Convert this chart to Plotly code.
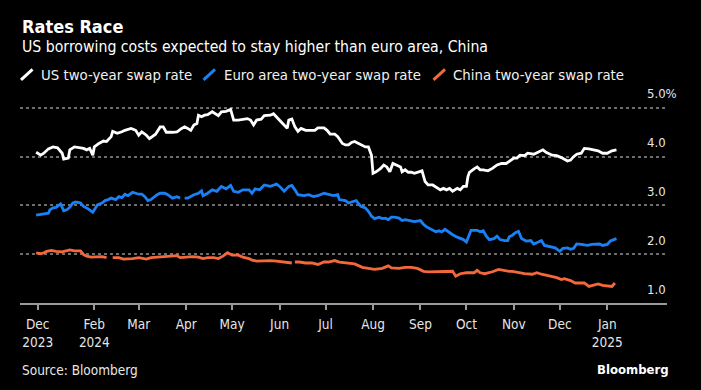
import plotly.graph_objects as go

# ---------------- data ----------------
us_dates = ["2023-12-25","2023-12-28","2023-12-30","2024-01-02","2024-01-05","2024-01-08","2024-01-11","2024-01-12","2024-01-15","2024-01-16",
            "2024-01-19","2024-01-23","2024-01-25","2024-01-27","2024-01-29","2024-01-31","2024-02-01","2024-02-04","2024-02-07","2024-02-09",
            "2024-02-12","2024-02-13","2024-02-16","2024-02-19","2024-02-21","2024-02-25","2024-02-28","2024-03-01","2024-03-03","2024-03-06",
            "2024-03-08","2024-03-12","2024-03-15","2024-03-17","2024-03-19","2024-03-23","2024-03-26","2024-03-29","2024-03-31","2024-04-02",
            "2024-04-04","2024-04-06","2024-04-08","2024-04-09","2024-04-11","2024-04-13","2024-04-15","2024-04-18","2024-04-20","2024-04-22",
            "2024-04-24","2024-04-27","2024-04-30","2024-05-02","2024-05-05","2024-05-08","2024-05-11","2024-05-13","2024-05-15","2024-05-17",
            "2024-05-20","2024-05-22","2024-05-26","2024-05-28","2024-05-30","2024-06-01","2024-06-03","2024-06-06","2024-06-07","2024-06-09",
            "2024-06-11","2024-06-13","2024-06-15","2024-06-18","2024-06-21","2024-06-24","2024-06-26","2024-06-30","2024-07-02","2024-07-04",
            "2024-07-07","2024-07-09","2024-07-12","2024-07-14","2024-07-16",
            "2024-07-18","2024-07-20","2024-07-24","2024-07-27","2024-07-29","2024-07-31","2024-08-01","2024-08-03","2024-08-06","2024-08-08",
            "2024-08-10","2024-08-12","2024-08-14","2024-08-16","2024-08-19","2024-08-20","2024-08-22","2024-08-24","2024-08-26","2024-08-28",
            "2024-08-31","2024-09-02","2024-09-04","2024-09-06","2024-09-09","2024-09-12","2024-09-14","2024-09-16","2024-09-18","2024-09-20",
            "2024-09-22","2024-09-25","2024-09-27","2024-09-29","2024-10-01","2024-10-02","2024-10-03","2024-10-06","2024-10-08","2024-10-10",
            "2024-10-12","2024-10-15","2024-10-18","2024-10-21","2024-10-24","2024-10-27","2024-10-29",
            "2024-11-01","2024-11-03","2024-11-05","2024-11-08","2024-11-10","2024-11-14","2024-11-17","2024-11-20","2024-11-22","2024-11-26",
            "2024-11-29","2024-12-02","2024-12-06","2024-12-08","2024-12-10","2024-12-12","2024-12-15","2024-12-17","2024-12-20","2024-12-23",
            "2024-12-26","2024-12-29","2025-01-01","2025-01-04","2025-01-07"]
us_rates = [4.09,4.03,4.07,4.16,4.20,4.18,4.07,3.95,3.97,4.14,
            4.20,4.18,4.17,4.14,4.17,4.03,4.20,4.27,4.32,4.31,
            4.41,4.52,4.48,4.51,4.54,4.58,4.54,4.44,4.51,4.44,
            4.37,4.46,4.61,4.61,4.50,4.50,4.51,4.58,4.61,4.58,
            4.54,4.65,4.68,4.85,4.82,4.85,4.86,4.92,4.88,4.84,
            4.92,4.93,4.97,4.75,4.75,4.77,4.78,4.75,4.65,4.75,
            4.77,4.84,4.85,4.88,4.82,4.75,4.68,4.58,4.75,4.77,
            4.61,4.52,4.58,4.54,4.54,4.54,4.59,4.59,4.54,4.46,
            4.46,4.41,4.27,4.24,4.24,
            4.29,4.31,4.24,4.20,4.20,4.03,3.66,3.69,3.76,3.83,
            3.79,3.69,3.86,3.83,3.79,3.69,3.73,3.68,3.68,3.66,
            3.69,3.71,3.49,3.42,3.42,3.37,3.32,3.35,3.32,3.35,
            3.29,3.35,3.32,3.39,3.39,3.59,3.68,3.75,3.79,3.73,
            3.73,3.71,3.76,3.83,3.86,3.86,3.90,
            3.97,3.97,4.03,4.02,4.07,4.05,4.09,4.14,4.09,4.03,
            4.02,3.98,3.91,3.93,4.00,4.05,4.07,4.17,4.16,4.14,
            4.12,4.07,4.07,4.12,4.14]

eu_dates = ["2023-12-25","2023-12-30","2024-01-02","2024-01-03","2024-01-05","2024-01-07","2024-01-10","2024-01-12","2024-01-14","2024-01-16",
            "2024-01-18","2024-01-20","2024-01-23","2024-01-25","2024-01-28","2024-01-31","2024-02-03","2024-02-06","2024-02-08","2024-02-10",
            "2024-02-12","2024-02-15","2024-02-17","2024-02-19","2024-02-21","2024-02-23","2024-02-26","2024-03-01","2024-03-03","2024-03-05",
            "2024-03-07","2024-03-09","2024-03-13","2024-03-15","2024-03-18","2024-03-20","2024-03-23","2024-03-26","2024-03-28","2024-03-29",
            "2024-03-31","2024-04-02",
            "2024-04-06","2024-04-09","2024-04-11","2024-04-12","2024-04-15","2024-04-18","2024-04-21","2024-04-24","2024-04-27","2024-04-30",
            "2024-05-02","2024-05-05","2024-05-08","2024-05-12","2024-05-14","2024-05-16","2024-05-19","2024-05-22","2024-05-26","2024-05-28",
            "2024-05-30","2024-06-01","2024-06-04","2024-06-07","2024-06-09","2024-06-11","2024-06-13","2024-06-17","2024-06-20","2024-06-23",
            "2024-06-26","2024-06-30","2024-07-03","2024-07-06","2024-07-09","2024-07-10","2024-07-14","2024-07-16",
            "2024-07-19","2024-07-21","2024-07-24","2024-07-27","2024-07-29","2024-07-31","2024-08-02","2024-08-05","2024-08-07","2024-08-09",
            "2024-08-11","2024-08-13","2024-08-15","2024-08-18","2024-08-20","2024-08-22","2024-08-25","2024-08-28","2024-09-01","2024-09-03",
            "2024-09-05","2024-09-08","2024-09-11","2024-09-13","2024-09-15","2024-09-17","2024-09-20","2024-09-22","2024-09-25","2024-09-27",
            "2024-09-29","2024-10-01","2024-10-03","2024-10-04","2024-10-08","2024-10-10","2024-10-12","2024-10-14","2024-10-16","2024-10-19",
            "2024-10-21","2024-10-23","2024-10-26","2024-10-28","2024-10-29",
            "2024-10-31","2024-11-02","2024-11-04","2024-11-06","2024-11-09","2024-11-12","2024-11-14","2024-11-17","2024-11-19","2024-11-21",
            "2024-11-25","2024-11-28","2024-12-01","2024-12-03","2024-12-06","2024-12-08","2024-12-10","2024-12-12","2024-12-15","2024-12-19",
            "2024-12-22","2024-12-25","2024-12-27","2024-12-29","2025-01-01","2025-01-03","2025-01-05","2025-01-07"]
eu_rates = [2.80,2.82,2.84,2.91,2.95,2.96,3.03,2.89,2.91,2.96,
            3.05,3.07,3.05,2.98,2.93,2.86,3.01,3.05,3.10,3.12,
            3.15,3.12,3.18,3.16,3.23,3.20,3.27,3.23,3.23,3.18,
            3.10,3.12,3.22,3.25,3.25,3.22,3.15,3.18,3.15,None,
            3.15,3.15,
            3.22,3.25,3.30,3.20,3.25,3.32,3.29,3.39,3.34,3.41,
            3.29,3.27,3.32,3.32,3.25,3.34,3.32,3.42,3.39,3.42,
            3.44,3.39,3.29,3.39,3.41,3.32,3.22,3.20,3.22,3.18,
            3.20,3.25,3.23,3.20,3.22,3.12,3.10,3.05,
            3.08,3.10,2.98,2.95,2.88,2.78,2.73,2.76,2.73,2.74,
            2.71,2.76,2.76,2.74,2.69,2.71,2.69,2.67,2.69,2.61,
            2.56,2.51,2.46,2.48,2.46,2.51,2.44,2.40,2.35,2.32,
            2.30,2.25,2.42,2.49,2.49,2.46,2.48,2.37,2.30,2.32,
            2.37,2.30,2.28,2.28,2.36,
            2.39,2.44,2.47,2.32,2.27,2.28,2.21,2.25,2.28,2.18,
            2.16,2.13,2.06,2.12,2.13,2.10,2.12,2.21,2.20,2.18,
            2.20,2.21,2.21,2.18,2.20,2.27,2.30,2.32]

cn_dates = ["2023-12-25","2023-12-28","2023-12-30","2024-01-01","2024-01-04","2024-01-07","2024-01-11","2024-01-14","2024-01-16","2024-01-19",
            "2024-01-23","2024-01-25","2024-01-27","2024-01-30","2024-02-03","2024-02-06","2024-02-09","2024-02-11","2024-02-13","2024-02-17",
            "2024-02-20","2024-02-23","2024-02-26","2024-03-01","2024-03-04","2024-03-06","2024-03-09","2024-03-13","2024-03-16","2024-03-19",
            "2024-03-23","2024-03-26","2024-03-28","2024-03-31","2024-04-02",
            "2024-04-05","2024-04-09","2024-04-12","2024-04-15","2024-04-19","2024-04-22","2024-04-25","2024-04-28","2024-05-01","2024-05-05",
            "2024-05-08","2024-05-12","2024-05-14","2024-05-17","2024-05-21","2024-05-26","2024-05-30","2024-06-05","2024-06-09","2024-06-10",
            "2024-06-11","2024-06-14","2024-06-18","2024-06-22","2024-06-26","2024-06-30","2024-07-03","2024-07-07","2024-07-10","2024-07-14",
            "2024-07-17",
            "2024-07-20","2024-07-25","2024-07-29","2024-08-02","2024-08-07","2024-08-11","2024-08-13","2024-08-18","2024-08-22","2024-08-26",
            "2024-08-30","2024-09-03","2024-09-06","2024-09-11","2024-09-15","2024-09-19","2024-09-22","2024-09-24","2024-09-27","2024-10-01",
            "2024-10-06","2024-10-08","2024-10-10","2024-10-13","2024-10-18","2024-10-22","2024-10-25","2024-10-29",
            "2024-10-31","2024-11-04","2024-11-08","2024-11-13","2024-11-16","2024-11-19","2024-11-22","2024-11-26","2024-11-29","2024-12-02",
            "2024-12-04","2024-12-08","2024-12-11","2024-12-14","2024-12-17","2024-12-20","2024-12-23","2024-12-26","2024-12-29","2025-01-02",
            "2025-01-04","2025-01-06"]
cn_rates = [2.03,2.01,2.03,2.06,2.08,2.06,2.05,2.07,2.09,2.07,
            2.07,1.99,1.96,1.94,1.94,1.95,1.93,None,1.93,1.93,
            1.90,1.90,1.91,1.93,1.91,1.90,1.93,1.94,1.94,1.94,
            1.95,1.97,1.93,1.94,1.95,
            1.95,1.94,1.91,1.93,1.93,1.91,1.96,2.03,1.98,1.98,
            1.94,1.91,1.88,1.86,1.87,1.87,1.86,1.84,1.82,None,
            1.84,1.84,1.82,1.82,1.79,1.84,1.84,1.87,1.84,1.82,
            1.82,
            1.80,1.73,1.71,1.69,1.71,1.76,1.72,1.71,1.73,1.73,
            1.71,1.65,1.64,1.64,1.65,1.65,1.65,1.55,1.60,1.62,
            1.62,1.67,1.62,1.60,1.64,1.69,1.67,1.65,
            1.65,1.62,1.60,1.59,1.62,1.59,1.57,1.55,1.52,1.48,
            1.50,1.46,1.41,1.41,1.41,1.34,1.36,1.39,1.36,1.34,
            1.34,1.41]

series_names = ["US two-year swap rate", "Euro area two-year swap rate", "China two-year swap rate"]
series_colors = ["#ffffff", "#1a80f5", "#f5683c"]

x_tick_dates = ["2023-12-26","2024-02-01","2024-03-01","2024-04-01","2024-05-01","2024-06-01","2024-07-01",
                "2024-08-01","2024-09-01","2024-10-01","2024-11-01","2024-12-01","2025-01-01"]
x_tick_labels = ["Dec<br>2023","Feb<br>2024","Mar","Apr","May","Jun","Jul","Aug","Sep","Oct","Nov","Dec","Jan<br>2025"]
y_grid_vals = [2, 3, 4, 5]
y_label_vals = [5, 4, 3, 2, 1]
y_label_text = ["5.0%", "4.0", "3.0", "2.0", "1.0"]

title = "Rates Race"
subtitle = "US borrowing costs expected to stay higher than euro area, China"
source = "Source: Bloomberg"

# ---------------- layout geometry ----------------
W, H = 701, 390
L, R, T, B = 20, 34, 102.8, 86.5
PW, PH = W - L - R, H - T - B
FONT = "DejaVu Sans Condensed, DejaVu Sans, sans-serif"

def px2x(px):
    return (px - L) / PW

def py2y(py):
    return (H - B - py) / PH

fig = go.Figure()
all_series = [(us_dates, us_rates), (eu_dates, eu_rates), (cn_dates, cn_rates)]
for (d, v), name, col in zip(all_series, series_names, series_colors):
    fig.add_trace(go.Scatter(x=d, y=v, mode="lines", name=name, connectgaps=False,
                             line=dict(color=col, width=2.8), showlegend=False,
                             hoverinfo="x+y"))

annotations = []
shapes = []
# header
annotations.append(dict(text="<b>" + title + "</b>", xref="paper", yref="paper", x=px2x(20), y=py2y(26.5),
                        xanchor="left", yanchor="middle", showarrow=False,
                        font=dict(family=FONT, size=18, color="#ffffff")))
annotations.append(dict(text=subtitle, xref="paper", yref="paper", x=px2x(20), y=py2y(46.5),
                        xanchor="left", yanchor="middle", showarrow=False,
                        font=dict(family=FONT, size=15.7, color="#ffffff")))
# custom legend with slanted swatches
leg_sym_x = [21, 203.5, 433.5]
leg_txt_x = [39, 221.5, 450.5]
for name, col, sx, tx in zip(series_names, series_colors, leg_sym_x, leg_txt_x):
    shapes.append(dict(type="line", xref="paper", yref="paper",
                       x0=px2x(sx), y0=py2y(79.5), x1=px2x(sx + 11.5), y1=py2y(69),
                       line=dict(color=col, width=3)))
    annotations.append(dict(text=name, xref="paper", yref="paper", x=px2x(tx), y=py2y(74.5),
                            xanchor="left", yanchor="middle", showarrow=False,
                            font=dict(family=FONT, size=14.8, color="#f0f0f0")))
# right-hand value labels, sitting above each gridline
for v, t in zip(y_label_vals, y_label_text):
    annotations.append(dict(text=t, xref="paper", yref="y", x=px2x(645), y=v, yshift=14,
                            xanchor="left", yanchor="middle", showarrow=False,
                            font=dict(family=FONT, size=13, color="#e6e6e6")))
# footer
annotations.append(dict(text=source, xref="paper", yref="paper", x=px2x(20), y=py2y(371),
                        xanchor="left", yanchor="middle", showarrow=False,
                        font=dict(family=FONT, size=13.5, color="#e6e6e6")))
annotations.append(dict(text="<b>Bloomberg</b>", xref="paper", yref="paper", x=px2x(671), y=py2y(370),
                        xanchor="right", yanchor="middle", showarrow=False,
                        font=dict(family=FONT, size=13, color="#ffffff")))

fig.update_layout(
    width=W, height=H,
    margin=dict(l=L, r=R, t=T, b=B, autoexpand=False),
    paper_bgcolor="#000000", plot_bgcolor="#000000",
    font=dict(family=FONT, color="#e6e6e6"),
    annotations=annotations, shapes=shapes,
    showlegend=False,
    xaxis=dict(type="date", range=["2023-12-14 11:00", "2025-02-09"],
               tickmode="array", tickvals=x_tick_dates, ticktext=x_tick_labels,
               ticks="outside", ticklen=5, tickwidth=1.5, tickcolor="#9a9a9a",
               showline=True, linecolor="#9a9a9a", linewidth=1.5,
               showgrid=False, zeroline=False, ticklabelstandoff=3,
               tickfont=dict(family=FONT, size=13.5, color="#e6e6e6")),
    yaxis=dict(range=[1, 5.1], tickmode="array", tickvals=y_grid_vals,
               showticklabels=False, ticks="", showline=False, zeroline=False,
               showgrid=True, gridcolor="#6e6e6e", gridwidth=1.5, griddash="dot"),
)

fig.write_html("out.html", config={"displayModeBar": False},
               post_script="document.body.style.margin='0';document.body.style.background='#000';")
